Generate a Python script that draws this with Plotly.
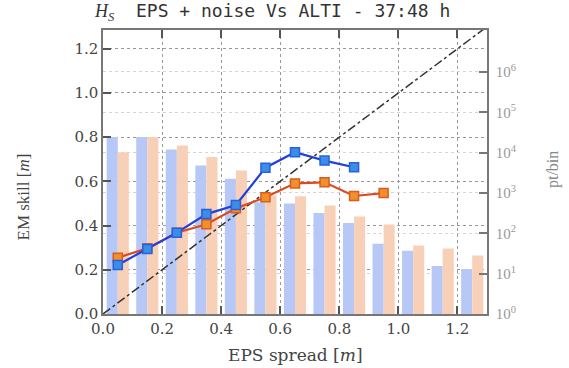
import plotly.graph_objects as go

# ---- data ----
bin_centers = [0.05, 0.15, 0.25, 0.35, 0.45, 0.55, 0.65, 0.75, 0.85, 0.95, 1.05, 1.15, 1.25]
count_eps = [24500, 24500, 12000, 4800, 2250, 590, 550, 320, 180, 55, 37, 15.5, 13]
count_noise = [10200, 24500, 15000, 7800, 3600, 870, 830, 490, 260, 165, 50, 42, 28]

spread_eps = [0.05, 0.15, 0.25, 0.35, 0.45, 0.55, 0.65, 0.75, 0.85]
skill_eps = [0.222, 0.294, 0.368, 0.452, 0.493, 0.662, 0.732, 0.694, 0.664]

spread_noise = [0.05, 0.15, 0.25, 0.35, 0.45, 0.55, 0.65, 0.75, 0.85, 0.95]
skill_noise = [0.255, 0.297, 0.368, 0.406, 0.478, 0.528, 0.591, 0.596, 0.534, 0.547]

diag = [0.0, 1.3]

x_ticks = [0.0, 0.2, 0.4, 0.6, 0.8, 1.0, 1.2]
y_ticks = [0.0, 0.2, 0.4, 0.6, 0.8, 1.0, 1.2]
log_tickvals = [1, 10, 100, 1000, 10000, 100000, 1000000]
log_ticktext = ["10<sup>0</sup>", "10<sup>1</sup>", "10<sup>2</sup>", "10<sup>3</sup>",
                "10<sup>4</sup>", "10<sup>5</sup>", "10<sup>6</sup>"]

title_text = ('<span style="font-family:Liberation Serif"><i>H<sub>S</sub></i></span>'
              '  EPS + noise Vs ALTI - 37:48 h')

# ---- figure ----
fig = go.Figure()

fig.add_trace(go.Bar(x=bin_centers, y=count_eps, yaxis="y", marker_color="#b7c8f6",
                     marker_line_width=0, showlegend=False))
fig.add_trace(go.Bar(x=bin_centers, y=count_noise, yaxis="y", marker_color="#f8d0b8",
                     marker_line_width=0, showlegend=False))

fig.add_trace(go.Scatter(x=diag, y=diag, yaxis="y2", mode="lines",
                         line=dict(color="#333333", width=1.5, dash="dashdot"),
                         showlegend=False))

fig.add_trace(go.Scatter(x=spread_noise, y=skill_noise, yaxis="y2", mode="lines+markers",
                         line=dict(color="#dc4a20", width=2.2),
                         marker=dict(symbol="square", size=9, color="#f0902a",
                                     line=dict(color="#dc5a20", width=1.5)),
                         showlegend=False))
fig.add_trace(go.Scatter(x=spread_eps, y=skill_eps, yaxis="y2", mode="lines+markers",
                         line=dict(color="#1e40dc", width=2.2),
                         marker=dict(symbol="square", size=9, color="#3a8ee8",
                                     line=dict(color="#2a60dc", width=1.5)),
                         showlegend=False))

tickfont = dict(family="DejaVu Serif", size=15, color="#444444")

fig.update_layout(
    width=569, height=368,
    margin=dict(l=103, r=82, t=30, b=54, autoexpand=False),
    plot_bgcolor="white", paper_bgcolor="white",
    barmode="group", bargap=0.25, bargroupgap=0,
    showlegend=False,
    xaxis=dict(range=[0, 1.3], tickvals=x_ticks, tickformat=".1f", automargin=False,
               ticks="inside", ticklen=8, tickwidth=1.5, tickcolor="#555555",
               showline=True, linecolor="#777777", linewidth=1.5, mirror="ticks",
               showgrid=True, gridcolor="#999999", griddash="dot", gridwidth=1,
               zeroline=False, tickfont=tickfont),
    yaxis=dict(type="log", range=[0, 7.04], side="right", automargin=False,
               tickvals=log_tickvals, ticktext=log_ticktext,
               ticks="inside", ticklen=8, tickwidth=1.5, tickcolor="#777777",
               showline=True, linecolor="#777777", linewidth=1.5,
               showgrid=True, gridcolor="#d4d4d4", griddash="dot", gridwidth=1,
               zeroline=False, ticklabelstandoff=4,
               tickfont=dict(family="Liberation Serif", size=15, color="#999999")),
    yaxis2=dict(overlaying="y", side="left", range=[0, 1.285], tickvals=y_ticks,
                tickformat=".1f", automargin=False,
                ticks="inside", ticklen=8, tickwidth=1.5, tickcolor="#555555",
                showline=True, linecolor="#777777", linewidth=1.5,
                showgrid=True, gridcolor="#999999", griddash="dot", gridwidth=1,
                zeroline=False, tickfont=tickfont),
    annotations=[
        dict(text=title_text, xref="paper", yref="paper", x=0.44, y=1.063,
             xanchor="center", yanchor="middle", showarrow=False,
             font=dict(family="DejaVu Sans Mono", size=18, color="#333333")),
        dict(text="EM skill [<i>m</i>]", xref="paper", yref="paper", x=-0.207, y=0.412,
             xanchor="center", yanchor="middle", textangle=-90, showarrow=False,
             font=dict(family="Liberation Serif", size=17, color="#444444")),
        dict(text="EPS spread [<i>m</i>]", xref="paper", yref="paper", x=0.5, y=-0.144,
             xanchor="center", yanchor="middle", showarrow=False,
             font=dict(family="DejaVu Serif", size=17, color="#444444")),
        dict(text="pt/bin", xref="paper", yref="paper", x=1.172, y=0.507,
             xanchor="center", yanchor="middle", textangle=-90, showarrow=False,
             font=dict(family="Liberation Serif", size=16, color="#888888")),
    ],
)

fig.write_html("out.html", config={"displayModeBar": False},
               post_script="document.body.style.margin='0';")
